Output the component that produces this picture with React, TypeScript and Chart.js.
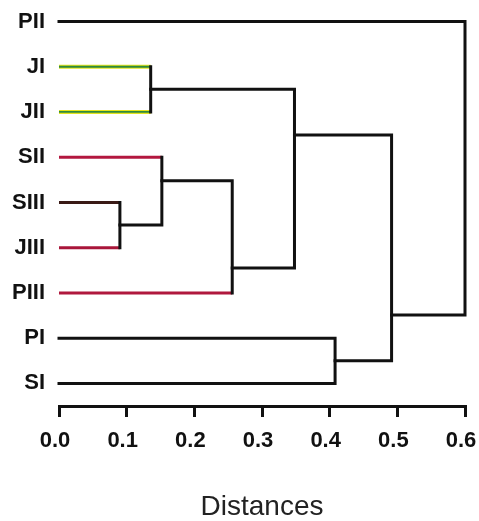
import React, { useEffect, useRef } from "react";
import { Chart, registerables } from "chart.js";

Chart.register(...registerables);

// Leaves (top to bottom)
const leafLabels = ["PII", "JI", "JII", "SII", "SIII", "JIII", "PIII", "PI", "SI"];
const leafCore = ["#111111", "#2f8a3c", "#2f8a3c", "#b3173f", "#3a1a16", "#a9163a", "#b0183d", "#111111", "#111111"];
const leafHalo = [null, "#e3e31e", "#e3e31e", null, null, null, null, null, null];

// Merges: child ids (0-8 leaves, 9+ merges in order), distance, row position
const mergeLeft = [1, 4, 3, 11, 9, 7, 13, 0];
const mergeRight = [2, 5, 10, 6, 12, 8, 14, 15];
const mergeHeight = [0.1355, 0.09, 0.152, 0.256, 0.348, 0.408, 0.4915, 0.6];
const mergeRow = [1.5, 4.5, 3.52, 5.45, 2.51, 7.5, 6.49, 3.2];

const xMin = 0;
const xMax = 0.6;
const xStep = 0.1;
const axisTitle = "Distances";

const nLeaves = leafLabels.length;

function pos(id: number) {
  if (id < nLeaves) return { x: 0, y: id };
  return { x: mergeHeight[id - nLeaves], y: mergeRow[id - nLeaves] };
}
function isColoredLeaf(id: number) {
  return id < nLeaves && leafCore[id] !== "#111111";
}

function buildDatasets() {
  const ds: any[] = [];
  const parentHeight: Record<number, number> = {};
  mergeLeft.forEach((l, m) => {
    const r = mergeRight[m];
    const d = mergeHeight[m];
    parentHeight[l] = d;
    parentHeight[r] = d;
    const L = pos(l);
    const R = pos(r);
    const pts: { x: number; y: number }[] = [];
    if (!isColoredLeaf(l)) pts.push({ x: L.x, y: L.y });
    pts.push({ x: d, y: L.y });
    pts.push({ x: d, y: R.y });
    if (!isColoredLeaf(r)) pts.push({ x: R.x, y: R.y });
    ds.push({
      type: "line",
      data: pts,
      borderColor: "#111111",
      borderWidth: 3,
      borderCapStyle: "square",
      borderJoinStyle: "miter",
      pointRadius: 0,
      fill: false,
      tension: 0,
      clip: false,
      order: 0,
    });
  });
  for (let i = 0; i < nLeaves; i++) {
    if (!isColoredLeaf(i)) continue;
    const d = parentHeight[i];
    const pts = [
      { x: 0, y: i },
      { x: d, y: i },
    ];
    if (leafHalo[i]) {
      ds.push({
        type: "line",
        data: pts,
        borderColor: leafHalo[i],
        borderWidth: 4,
        pointRadius: 0,
        fill: false,
        clip: false,
        order: 2,
      });
      ds.push({
        type: "line",
        data: pts,
        borderColor: leafCore[i],
        borderWidth: 1.8,
        pointRadius: 0,
        fill: false,
        clip: false,
        order: 1,
      });
    } else {
      ds.push({
        type: "line",
        data: pts,
        borderColor: leafCore[i],
        borderWidth: 3,
        pointRadius: 0,
        fill: false,
        clip: false,
        order: 1,
      });
    }
  }
  return ds;
}

export default function App() {
  const ref = useRef<HTMLCanvasElement | null>(null);
  useEffect(() => {
    if (!ref.current) return;
    const chart = new Chart(ref.current, {
      type: "line",
      data: { datasets: buildDatasets() },
      options: {
        animation: false,
        responsive: false,
        events: [],
        layout: { padding: { top: 21.5, right: 14, left: 0, bottom: 0 } },
        plugins: { legend: { display: false }, tooltip: { enabled: false }, title: { display: false } },
        scales: {
          x: {
            type: "linear",
            min: xMin,
            max: xMax,
            position: "bottom",
            afterFit: (s: any) => {
              s.paddingLeft = 0;
              s.paddingRight = 0;
              s.height = 115;
            },
            ticks: {
              stepSize: xStep,
              callback: (v: any) => Number(v).toFixed(1),
              font: { family: "Liberation Sans", size: 22, weight: "bold" },
              color: "#111111",
              padding: 11,
              labelOffset: -4,
              maxRotation: 0,
            },
            grid: { drawOnChartArea: false, drawTicks: true, tickLength: 11, color: "#111111", lineWidth: 3 },
            border: { display: true, color: "#111111", width: 3 },
            title: {
              display: true,
              text: axisTitle,
              font: { family: "Liberation Sans", size: 28, lineHeight: 1.0 },
              color: "#222222",
              padding: { top: 20, bottom: 0 },
            },
          },
          y: {
            type: "linear",
            reverse: true,
            min: 0,
            max: nLeaves - 0.5,
            afterBuildTicks: (s: any) => {
              s.ticks = leafLabels.map((_, i) => ({ value: i }));
            },
            afterFit: (s: any) => {
              s.width = 59;
              s.paddingTop = 0;
              s.paddingBottom = 0;
            },
            ticks: {
              callback: (v: any) => leafLabels[Math.round(Number(v))] ?? "",
              font: { family: "Liberation Sans", size: 22, weight: "bold" },
              color: "#111111",
              padding: 14,
              autoSkip: false,
            },
            grid: { display: false, drawTicks: false },
            border: { display: false },
          },
        },
      } as any,
    });
    return () => chart.destroy();
  }, []);
  return (
    <div style={{ position: "fixed", left: 0, top: 0, width: 479, height: 521, background: "#fff" }}>
      <canvas ref={ref} width={479} height={521} style={{ width: 479, height: 521 }} />
    </div>
  );
}
